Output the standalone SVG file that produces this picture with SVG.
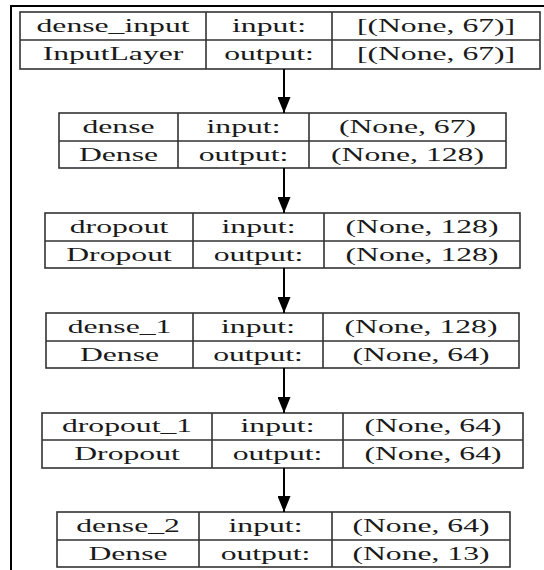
<svg xmlns="http://www.w3.org/2000/svg" width="544" height="570" viewBox="0 0 544 570">
<defs>
<style>
.box{fill:#fff;stroke:#333;stroke-width:1.6}
.div{stroke:#333;stroke-width:1.6}
.t{font-family:"Liberation Serif","Times New Roman",serif;font-size:18px;fill:#1a1a1a;text-anchor:middle}
.edge{stroke:#000;stroke-width:2;fill:none}
.frame{stroke:#000;stroke-width:2;fill:none}
</style>
<marker id="ah" markerWidth="16" markerHeight="13" refX="16" refY="6.5" orient="auto" markerUnits="userSpaceOnUse">
<path d="M0,0 L16,6.5 L0,13 Z" fill="#000"/>
</marker>
</defs>
<rect width="544" height="570" fill="#fff"/>
<path class="frame" d="M11,570 V6 H544"/>

<g id="dense_input">
<rect class="box" x="20" y="12" width="520" height="57"/>
<path class="div" d="M20,40 H540 M206,12 V69 M332,12 V69"/>
<text class="t" transform="translate(113,32) scale(1.76,1)">dense_input</text>
<text class="t" transform="translate(269,32) scale(1.76,1)">input:</text>
<text class="t" transform="translate(436,32) scale(1.76,1)">[(None, 67)]</text>
<text class="t" transform="translate(113,60) scale(1.76,1)">InputLayer</text>
<text class="t" transform="translate(269,60) scale(1.76,1)">output:</text>
<text class="t" transform="translate(436,60) scale(1.76,1)">[(None, 67)]</text>
</g>

<g id="dense">
<rect class="box" x="59" y="113" width="447" height="55"/>
<path class="div" d="M59,141 H506 M178,113 V168 M309,113 V168"/>
<text class="t" transform="translate(118.5,132.5) scale(1.76,1)">dense</text>
<text class="t" transform="translate(243.5,132.5) scale(1.76,1)">input:</text>
<text class="t" transform="translate(407.5,132.5) scale(1.76,1)">(None, 67)</text>
<text class="t" transform="translate(118.5,160.5) scale(1.76,1)">Dense</text>
<text class="t" transform="translate(243.5,160.5) scale(1.76,1)">output:</text>
<text class="t" transform="translate(407.5,160.5) scale(1.76,1)">(None, 128)</text>
</g>

<g id="dropout">
<rect class="box" x="45" y="213" width="475" height="55"/>
<path class="div" d="M45,241 H520 M193,213 V268 M324,213 V268"/>
<text class="t" transform="translate(119,232.5) scale(1.76,1)">dropout</text>
<text class="t" transform="translate(258.5,232.5) scale(1.76,1)">input:</text>
<text class="t" transform="translate(422,232.5) scale(1.76,1)">(None, 128)</text>
<text class="t" transform="translate(119,260.5) scale(1.76,1)">Dropout</text>
<text class="t" transform="translate(258.5,260.5) scale(1.76,1)">output:</text>
<text class="t" transform="translate(422,260.5) scale(1.76,1)">(None, 128)</text>
</g>

<g id="dense_1">
<rect class="box" x="46" y="313" width="473" height="55"/>
<path class="div" d="M46,341 H519 M193,313 V368 M323,313 V368"/>
<text class="t" transform="translate(119.5,332.5) scale(1.76,1)">dense_1</text>
<text class="t" transform="translate(258,332.5) scale(1.76,1)">input:</text>
<text class="t" transform="translate(421,332.5) scale(1.76,1)">(None, 128)</text>
<text class="t" transform="translate(119.5,360.5) scale(1.76,1)">Dense</text>
<text class="t" transform="translate(258,360.5) scale(1.76,1)">output:</text>
<text class="t" transform="translate(421,360.5) scale(1.76,1)">(None, 64)</text>
</g>

<g id="dropout_1">
<rect class="box" x="42" y="413" width="481" height="55"/>
<path class="div" d="M42,440 H523 M212,413 V468 M343,413 V468"/>
<text class="t" transform="translate(127,432) scale(1.76,1)">dropout_1</text>
<text class="t" transform="translate(277.5,432) scale(1.76,1)">input:</text>
<text class="t" transform="translate(433,432) scale(1.76,1)">(None, 64)</text>
<text class="t" transform="translate(127,460) scale(1.76,1)">Dropout</text>
<text class="t" transform="translate(277.5,460) scale(1.76,1)">output:</text>
<text class="t" transform="translate(433,460) scale(1.76,1)">(None, 64)</text>
</g>

<g id="dense_2">
<rect class="box" x="57" y="512" width="453" height="55"/>
<path class="div" d="M57,540 H510 M199,512 V567 M332,512 V567"/>
<text class="t" transform="translate(128,531.5) scale(1.76,1)">dense_2</text>
<text class="t" transform="translate(265.5,531.5) scale(1.76,1)">input:</text>
<text class="t" transform="translate(421,531.5) scale(1.76,1)">(None, 64)</text>
<text class="t" transform="translate(128,559.5) scale(1.76,1)">Dense</text>
<text class="t" transform="translate(265.5,559.5) scale(1.76,1)">output:</text>
<text class="t" transform="translate(421,559.5) scale(1.76,1)">(None, 13)</text>
</g>

<g id="connectors">
<line class="edge" x1="284" y1="69" x2="284" y2="113" marker-end="url(#ah)"/>
<line class="edge" x1="284" y1="168" x2="284" y2="213" marker-end="url(#ah)"/>
<line class="edge" x1="284" y1="268" x2="284" y2="313" marker-end="url(#ah)"/>
<line class="edge" x1="284" y1="368" x2="284" y2="413" marker-end="url(#ah)"/>
<line class="edge" x1="284" y1="468" x2="284" y2="512" marker-end="url(#ah)"/>
</g>
</svg>
